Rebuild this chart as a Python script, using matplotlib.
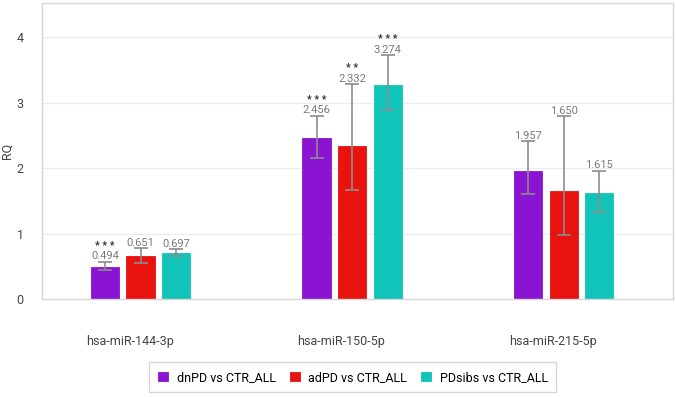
import matplotlib.pyplot as plt
import numpy as np

plt.rcParams['font.family'] = ['Roboto', 'DejaVu Sans']

mirnas = ['hsa-miR-144-3p', 'hsa-miR-150-5p', 'hsa-miR-215-5p']
groups = ['dnPD vs CTR_ALL', 'adPD vs CTR_ALL', 'PDsibs vs CTR_ALL']
colors = ['#8A14D1', '#E8120E', '#10C4B9']

rq = [[0.494, 2.456, 1.957],
      [0.651, 2.332, 1.650],
      [0.697, 3.274, 1.615]]
err_hi = [[0.57, 2.80, 2.41],
          [0.78, 3.28, 2.79],
          [0.76, 3.73, 1.96]]
err_lo = [[0.44, 2.16, 1.60],
          [0.55, 1.66, 0.98],
          [0.65, 2.89, 1.33]]
stars = [['***', '***', ''],
         ['', '**', ''],
         ['', '***', '']]

fig = plt.figure(figsize=(6.76, 3.97), dpi=100)
ax = fig.add_axes([0.062, 0.247, 0.934, 0.745])

x = np.arange(len(mirnas))
w = 0.133
step = 0.168
for i in range(3):
    xs = x + (i - 1) * step
    vals = np.array(rq[i])
    hi = np.array(err_hi[i])
    lo = np.array(err_lo[i])
    ax.bar(xs, vals, w, color=colors[i], edgecolor=colors[i], linewidth=0.6,
           label=groups[i], zorder=2)
    ax.errorbar(xs, vals, yerr=[vals - lo, hi - vals], fmt='none',
                ecolor='#8c8c8c', elinewidth=1.2, capsize=5, capthick=1.2, zorder=3)
    for j in range(3):
        ax.text(xs[j], hi[j] + 0.005, f'{vals[j]:.3f}', ha='center', va='bottom',
                fontsize=8, color='#7a7a7a', zorder=4)
        if stars[i][j]:
            ax.text(xs[j], hi[j] + 0.17, ' '.join(stars[i][j]), ha='center', va='bottom',
                    fontsize=7.5, fontweight='bold', color='#2b2b3b', zorder=4)

ax.set_xlim(-0.466, 2.518)
ax.set_ylim(0, 4.52)
ax.set_yticks([0, 1, 2, 3, 4])
ax.set_xticks(x - 0.05)
ax.set_xticklabels(mirnas)
ax.tick_params(axis='both', length=0, labelsize=9, labelcolor='#444444')
ax.tick_params(axis='x', pad=26)
ax.tick_params(axis='y', pad=13)
ax.yaxis.grid(True, color='#ececec', linewidth=0.8, zorder=0)
ax.set_axisbelow(True)
for s in ax.spines.values():
    s.set_color('#d6d6d6')
    s.set_linewidth(1)
ax.set_ylabel('RQ', fontsize=9, color='#444444')
ax.yaxis.set_label_coords(-0.045, 0.5)

fig.legend(loc='center', bbox_to_anchor=(0.522, 0.05), ncol=3, fontsize=9,
           frameon=True, fancybox=False, edgecolor='#cccccc', handlelength=0.8,
           handleheight=0.8, columnspacing=1.1, borderpad=0.7, handletextpad=0.7)

fig.savefig('out.png', dpi=100)
